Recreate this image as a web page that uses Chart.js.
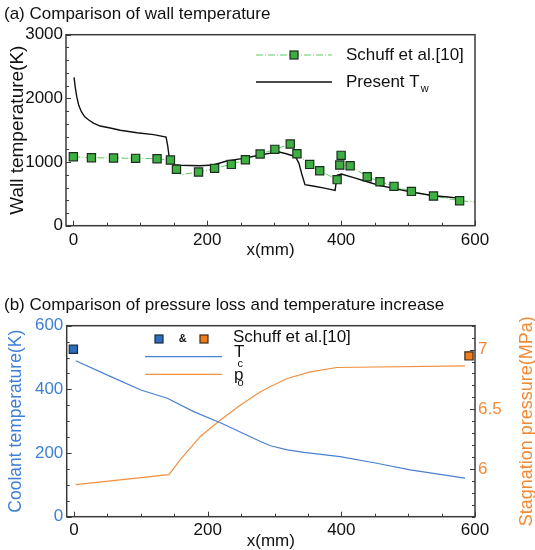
<!DOCTYPE html>
<html>
<head>
<meta charset="utf-8">
<title>Wall temperature and coolant</title>
<script src="https://cdn.jsdelivr.net/npm/chart.js@4.4.0/dist/chart.umd.min.js"></script>
<style>
	body { margin: 0; background: #fff; }
	canvas { display: block; }
</style>
</head>
<body>
<canvas id="chartA" width="535" height="275"></canvas>
<canvas id="chartB" width="535" height="275"></canvas>
<script>
// ---- (a) wall temperature ----
const xTicks = [0, 200, 400, 600];
const wallTicks = [0, 1000, 2000, 3000];

// present T_w (black line)
const twX = [1, 3, 5, 8, 12, 17, 23, 30, 40, 55, 70, 95, 120, 138.5, 141, 144, 150, 160, 189, 209, 229, 254, 279, 299, 306, 318, 329, 333, 337, 341, 346, 360, 375, 391, 394, 400.5, 420, 439, 458, 480, 505, 518, 538, 560, 578];
const twK = [2330, 2160, 2030, 1890, 1790, 1710, 1660, 1610, 1565, 1535, 1500, 1460, 1430, 1393, 1250, 1005, 960, 950, 942, 953, 1016, 1058, 1110, 1147, 1162, 1130, 1095, 1060, 980, 820, 645, 620, 590, 555, 790, 812, 750, 691, 630, 585, 528, 505, 470, 450, 430];

// Schuff et al. squares
const schuffWallX = [0, 27, 60, 93, 125, 145, 154, 187, 211, 236, 257, 279, 301, 324, 334, 353, 368, 394, 398, 400, 413.5, 439, 458, 479, 505, 538, 577];
const schuffWallK = [1084, 1068, 1063, 1058, 1052, 1031, 885, 843, 901, 963, 1037, 1126, 1199, 1283, 1131, 963, 864, 723, 953, 1105, 942, 770, 691, 618, 539, 466, 393];

// Schuff et al. dash-dot curve
const schuffFitX = [0, 27, 60, 93, 125, 145, 154, 160, 187, 211, 236, 257, 279, 301, 324, 334, 353, 368, 394, 398, 413.5, 439, 458, 479, 505, 538, 577, 600];
const schuffFitK = [1084, 1068, 1063, 1058, 1052, 1031, 885, 800, 843, 901, 963, 1037, 1126, 1199, 1283, 1131, 963, 864, 723, 953, 942, 770, 691, 618, 539, 466, 393, 370];

// ---- (b) coolant temperature and stagnation pressure ----
const coolTicks = [0, 200, 400, 600];
const pressTicks = [6, 6.5, 7];

const tcX = [2.5, 55, 100, 139.5, 179, 219, 259, 279, 294, 319, 344, 398, 453, 503, 585];
const tcK = [490, 440, 398, 372, 330, 295, 256, 236, 223, 210, 202, 189, 168, 147, 121];

const poX = [2.5, 142, 159, 189, 219, 249, 279, 294, 319, 353.5, 393, 585];
const poMPa = [5.869, 5.953, 6.078, 6.272, 6.41, 6.536, 6.647, 6.69, 6.758, 6.813, 6.85, 6.864];

const schuffTcX = [-1];
const schuffTcK = [526];
const schuffPoX = [591];
const schuffPoMPa = [6.947];

const FONT = 'Liberation Sans, Arial, sans-serif';
const GREEN = '#3daf43';
const GREEN_LINE = '#62c962';
const BLUE = '#4a80d0';
const BLUE_TEXT = '#3d7fd6';
const BLUE_SQ = '#2e6cc0';
const ORANGE = '#f39040';
const ORANGE_TEXT = '#f28a35';
const ORANGE_SQ = '#ef7d1c';

Chart.defaults.font.family = FONT;

function pts(xs, ys) {
	return xs.map((x, i) => ({x: x, y: ys[i]}));
}
function fixed(list) {
	return function (axis) { axis.ticks = list.map(v => ({value: v})); };
}

// frame + inward tick marks
const frameTicks = {
	id: 'frameTicks',
	afterDatasetsDraw(chart, args, opts) {
		const ctx = chart.ctx, a = chart.chartArea;
		ctx.save();
		ctx.strokeStyle = '#3a3a3a';
		ctx.lineWidth = 1;
		opts.axes.forEach(function (ax) {
			const s = chart.scales[ax.id];
			for (let k = Math.ceil(s.min / ax.minor - 1e-9); k * ax.minor <= s.max + 1e-9; k++) {
				const v = k * ax.minor;
				const r = v / ax.major;
				const len = Math.abs(r - Math.round(r)) < 1e-6 ? 5 : 3;
				const p = Math.round(s.getPixelForValue(v)) + 0.5;
				ctx.beginPath();
				if (ax.side == 'bottom') { ctx.moveTo(p, a.bottom); ctx.lineTo(p, a.bottom - len); }
				else if (ax.side == 'left') { ctx.moveTo(a.left, p); ctx.lineTo(a.left + len, p); }
				else { ctx.moveTo(a.right, p); ctx.lineTo(a.right - len, p); }
				ctx.stroke();
			}
		});
		ctx.lineWidth = 1.5;
		ctx.strokeRect(a.left, a.top, a.right - a.left, a.bottom - a.top);
		ctx.restore();
	}
};

function square(ctx, x, y, fill, border) {
	ctx.fillStyle = fill;
	ctx.strokeStyle = border;
	ctx.lineWidth = 1.2;
	ctx.fillRect(x - 4, y - 4, 8, 8);
	ctx.strokeRect(x - 4, y - 4, 8, 8);
}
function sample(ctx, x1, x2, y, color, width, dash) {
	ctx.save();
	ctx.strokeStyle = color;
	ctx.lineWidth = width;
	ctx.setLineDash(dash || []);
	ctx.beginPath();
	ctx.moveTo(x1, y);
	ctx.lineTo(x2, y);
	ctx.stroke();
	ctx.restore();
}
function subText(ctx, x, y, main, sub, dx, dy) {
	ctx.fillStyle = '#111';
	ctx.textBaseline = 'middle';
	ctx.textAlign = 'left';
	ctx.font = '17px ' + FONT;
	ctx.fillText(main, x, y);
	const w = ctx.measureText(main).width;
	ctx.font = '11px ' + FONT;
	ctx.fillText(sub, x + w + dx, y + dy);
}

// legend of chart (a)
const legendA = {
	id: 'legendA',
	afterDraw(chart) {
		const ctx = chart.ctx;
		ctx.save();
		sample(ctx, 256, 332, 55, GREEN_LINE, 1, [7, 2, 1, 2]);
		square(ctx, 294, 55, GREEN, '#1c2e1c');
		ctx.fillStyle = '#111';
		ctx.font = '17px ' + FONT;
		ctx.textBaseline = 'middle';
		ctx.fillText('Schuff et al.[10]', 346, 55);
		sample(ctx, 256, 332, 82, '#111', 1.4);
		subText(ctx, 346, 82, 'Present T', 'w', 1, 7);
		ctx.restore();
	}
};

// legend and right axis title of chart (b)
const legendB = {
	id: 'legendB',
	afterDraw(chart) {
		const ctx = chart.ctx, a = chart.chartArea;
		ctx.save();
		square(ctx, 159, 64, BLUE_SQ, '#1a2a40');
		square(ctx, 204, 64, ORANGE_SQ, '#3a2a1a');
		ctx.fillStyle = '#111';
		ctx.textBaseline = 'middle';
		ctx.textAlign = 'center';
		ctx.font = 'bold 11px ' + FONT;
		ctx.fillText('&', 182.7, 64);
		ctx.textAlign = 'left';
		ctx.font = '17px ' + FONT;
		ctx.fillText('Schuff et al.[10]', 233, 62);
		sample(ctx, 145, 222, 81.7, BLUE, 1.2);
		subText(ctx, 234, 77, 'T', 'c', -7, 12);
		sample(ctx, 145, 222, 99.3, ORANGE, 1.2);
		subText(ctx, 234, 100, 'p', 'o', -6, 8);

		ctx.translate(527, (a.top + a.bottom) / 2);
		ctx.rotate(-Math.PI / 2);
		ctx.textAlign = 'center';
		ctx.fillStyle = ORANGE_TEXT;
		ctx.font = '18px ' + FONT;
		ctx.fillText('Stagnation pressure(MPa)', 0, 0);
		ctx.restore();
	}
};

// wykres (a)
new Chart(document.getElementById('chartA'), {
	type: 'line',
	data: {
		datasets: [{
			label: 'Schuff et al.[10]',
			data: pts(schuffWallX, schuffWallK),
			showLine: false,
			pointStyle: 'rect',
			pointRadius: 5.8,
			pointBackgroundColor: GREEN,
			pointBorderColor: '#1c2e1c',
			pointBorderWidth: 1.2,
			order: 0
		}, {
			label: 'Present Tw',
			data: pts(twX, twK),
			borderColor: '#111',
			borderWidth: 1.4,
			pointRadius: 0,
			order: 1
		}, {
			label: 'Schuff fit',
			data: pts(schuffFitX, schuffFitK),
			borderColor: GREEN_LINE,
			borderWidth: 1,
			borderDash: [7, 2, 1, 2],
			pointRadius: 0,
			order: 2
		}]
	},
	options: {
		responsive: false,
		animation: false,
		devicePixelRatio: 1,
		layout: {padding: {left: 4, right: 60, top: 0, bottom: 0}},
		plugins: {
			legend: {display: false},
			tooltip: {enabled: false},
			title: {
				display: true,
				text: '(a) Comparison of wall temperature',
				align: 'start',
				color: '#111',
				font: {size: 17, weight: 'normal'},
				padding: {top: 4.5, bottom: 9.8}
			},
			frameTicks: {axes: [
				{id: 'x', side: 'bottom', major: 200, minor: 50},
				{id: 'y', side: 'left', major: 1000, minor: 200}
			]}
		},
		scales: {
			x: {
				type: 'linear', min: -11, max: 600,
				grid: {display: false, drawTicks: false},
				border: {display: false},
				ticks: {color: '#111', font: {size: 17}, padding: 4, autoSkip: false, maxRotation: 0, callback: v => String(v)},
				afterBuildTicks: fixed(xTicks),
				afterFit: s => { s.height = 49.3; },
				title: {display: true, text: 'x(mm)', color: '#111', font: {size: 17}, padding: {top: 0, bottom: 14.8}}
			},
			y: {
				type: 'linear', min: 0, max: 3000,
				grid: {display: false, drawTicks: false},
				border: {display: false},
				ticks: {color: '#111', font: {size: 17}, padding: 3, autoSkip: false, callback: v => String(v)},
				afterBuildTicks: fixed(wallTicks),
				afterFit: s => { s.width = 62; },
				title: {display: true, text: 'Wall temperature(K)', color: '#111', font: {size: 19}, padding: {top: 2.6, bottom: 0}}
			}
		}
	},
	plugins: [frameTicks, legendA]
});

// wykres (b)
new Chart(document.getElementById('chartB'), {
	type: 'line',
	data: {
		datasets: [{
			label: 'Schuff Tc',
			data: pts(schuffTcX, schuffTcK),
			showLine: false,
			pointStyle: 'rect',
			pointRadius: 5.8,
			pointBackgroundColor: BLUE_SQ,
			pointBorderColor: '#1a2a40',
			pointBorderWidth: 1.2,
			yAxisID: 'y',
			order: 0
		}, {
			label: 'Schuff po',
			data: pts(schuffPoX, schuffPoMPa),
			showLine: false,
			pointStyle: 'rect',
			pointRadius: 5.8,
			pointBackgroundColor: ORANGE_SQ,
			pointBorderColor: '#3a2a1a',
			pointBorderWidth: 1.2,
			yAxisID: 'y2',
			order: 0
		}, {
			label: 'Tc',
			data: pts(tcX, tcK),
			borderColor: BLUE,
			borderWidth: 1.2,
			pointRadius: 0,
			yAxisID: 'y',
			order: 1
		}, {
			label: 'po',
			data: pts(poX, poMPa),
			borderColor: ORANGE,
			borderWidth: 1.2,
			pointRadius: 0,
			yAxisID: 'y2',
			order: 1
		}]
	},
	options: {
		responsive: false,
		animation: false,
		devicePixelRatio: 1,
		layout: {padding: {left: 4, right: 0, top: 0, bottom: 0}},
		plugins: {
			legend: {display: false},
			tooltip: {enabled: false},
			title: {
				display: true,
				text: '(b) Comparison of pressure loss and temperature increase',
				align: 'start',
				color: '#111',
				font: {size: 17, weight: 'normal'},
				padding: {top: 19.8, bottom: 10.5}
			},
			frameTicks: {axes: [
				{id: 'x', side: 'bottom', major: 200, minor: 50},
				{id: 'y', side: 'left', major: 200, minor: 50},
				{id: 'y2', side: 'right', major: 0.5, minor: 0.1}
			]}
		},
		scales: {
			x: {
				type: 'linear', min: -11, max: 600,
				grid: {display: false, drawTicks: false},
				border: {display: false},
				ticks: {color: '#111', font: {size: 17}, padding: 3.5, autoSkip: false, maxRotation: 0, callback: v => String(v)},
				afterBuildTicks: fixed(xTicks),
				afterFit: s => { s.height = 33.3; },
				title: {display: true, text: 'x(mm)', color: '#111', font: {size: 17, lineHeight: 1}, padding: {top: 0, bottom: 0.5}}
			},
			y: {
				type: 'linear', position: 'left', min: 0, max: 600,
				grid: {display: false, drawTicks: false},
				border: {display: false},
				ticks: {color: BLUE_TEXT, font: {size: 17}, padding: 3.4, autoSkip: false, callback: v => String(v)},
				afterBuildTicks: fixed(coolTicks),
				afterFit: s => { s.width = 62.7; },
				title: {display: true, text: 'Coolant temperature(K)', color: BLUE_TEXT, font: {size: 17.5}, padding: {top: 1.5, bottom: 0}}
			},
			y2: {
				type: 'linear', position: 'right', min: 5.6, max: 7.2,
				grid: {display: false, drawTicks: false},
				border: {display: false},
				ticks: {color: ORANGE_TEXT, font: {size: 17}, padding: 3, autoSkip: false, callback: v => String(v)},
				afterBuildTicks: fixed(pressTicks),
				afterFit: s => { s.width = 60; }
			}
		}
	},
	plugins: [frameTicks, legendB]
});
</script>
</body>
</html>
